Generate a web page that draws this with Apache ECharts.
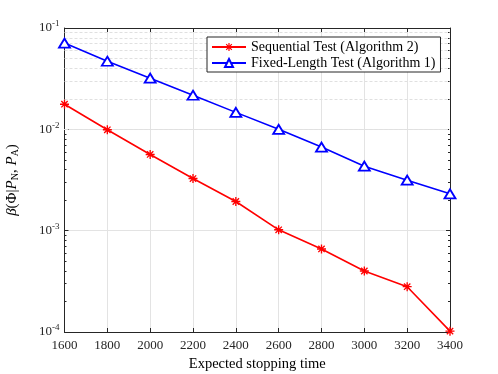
<!DOCTYPE html>
<html>
<head>
<meta charset="utf-8">
<script src="https://cdn.jsdelivr.net/npm/echarts@6/dist/echarts.min.js"></script>
<style>
  html, body { margin: 0; padding: 0; background: #fff; }
  #app { width: 498px; height: 374px; }
</style>
</head>
<body>
<div id="app"></div>
<script>
var stopTimes = [1600, 1800, 2000, 2200, 2400, 2600, 2800, 3000, 3200, 3400];
var sequential = [0.0177, 0.0099, 0.00565, 0.00327, 0.00194, 0.00102, 0.00066, 0.00040, 0.00028, 0.000102];
var fixedLength = [0.071, 0.047, 0.032, 0.0217, 0.0147, 0.0100, 0.00668, 0.00433, 0.00315, 0.00231];
var minorVals = [];
[1e-4, 1e-3, 1e-2].forEach(function (d) {
    for (var k = 2; k <= 9; k++) minorVals.push(+(k * d).toPrecision(2));
});

var serif = '"Liberation Serif", "DejaVu Serif", serif';
var axisColor = '#262626';

function pair(arr) {
    return stopTimes.map(function (t, i) { return [t, arr[i]]; });
}

// asterisk marker (MATLAB '*')
var star = 'path://M-0.15,-1L0.15,-1L0.15,1L-0.15,1Z M-1,-0.15L1,-0.15L1,0.15L-1,0.15Z ' +
    'M-0.6,-0.81L0.81,0.6L0.6,0.81L-0.81,-0.6Z M0.81,-0.6L-0.6,0.81L-0.81,0.6L0.6,-0.81Z';

var myChart = echarts.init(document.getElementById('app'));
var gridLine = { show: true, lineStyle: { color: '#e3e3e3', width: 1 } };

var option = {
    animation: false,
    grid: { left: 64.5, right: 48, top: 28, bottom: 42, outerBoundsMode: 'none', containLabel: false },
    legend: {
        data: ['Sequential Test (Algorithm 2)', 'Fixed-Length Test (Algorithm 1)'],
        orient: 'vertical',
        left: 207, top: 37,
        itemWidth: 34, itemHeight: 10, itemGap: 2,
        padding: [3, 5, 2, 4],
        backgroundColor: '#fff',
        borderColor: axisColor, borderWidth: 1,
        textStyle: { fontFamily: serif, fontSize: 14, color: '#000' }
    },
    xAxis: [{
        type: 'value', min: 1600, max: 3400, interval: 200,
        name: 'Expected stopping time', nameLocation: 'middle', nameGap: 24,
        nameTextStyle: { fontFamily: serif, fontSize: 14.5, color: '#000' },
        axisLine: { onZero: false, lineStyle: { color: axisColor } },
        axisTick: { inside: true, length: 4, lineStyle: { color: axisColor } },
        axisLabel: {
            fontFamily: serif, fontSize: 13, color: axisColor, margin: 7,
            formatter: function (v) { return String(v); }
        },
        splitLine: gridLine
    }, {
        type: 'value', min: 1600, max: 3400, interval: 200, position: 'top',
        axisLine: { onZero: false, lineStyle: { color: axisColor } },
        axisTick: { inside: true, length: 4, lineStyle: { color: axisColor } },
        axisLabel: { show: false }, splitLine: { show: false }
    }],
    yAxis: [{
        type: 'log', logBase: 10, min: 1e-4, max: 0.1,
        name: '{i|β}(Φ|{i|P}{s|N}, {i|P}{s|A})', nameLocation: 'middle', nameGap: 44, nameRotate: 90,
        nameTextStyle: {
            fontFamily: serif, fontSize: 15, color: '#000',
            rich: {
                i: { fontFamily: serif, fontSize: 15, fontStyle: 'italic', color: '#000' },
                s: { fontFamily: serif, fontSize: 10, color: '#000', padding: [7, 0, 0, 0] }
            }
        },
        axisLine: { onZero: false, lineStyle: { color: axisColor } },
        axisTick: { inside: true, length: 4, lineStyle: { color: axisColor } },
        axisLabel: {
            margin: 5,
            formatter: function (v) {
                return '{b|10}{e|' + Math.round(Math.log10(v)) + '}';
            },
            rich: {
                b: { fontFamily: serif, fontSize: 13, color: axisColor },
                e: { fontFamily: serif, fontSize: 9, color: axisColor, padding: [0, 0, 8, 0] }
            }
        },
        splitLine: gridLine
    }, {
        type: 'log', logBase: 10, min: 1e-4, max: 0.1, position: 'left',
        axisLine: { show: false },
        axisTick: { inside: true, length: 2, customValues: minorVals, lineStyle: { color: axisColor } },
        axisLabel: { show: false }, splitLine: { show: false }
    }, {
        type: 'log', logBase: 10, min: 1e-4, max: 0.1, position: 'right',
        axisLine: { onZero: false, lineStyle: { color: axisColor } },
        axisTick: { inside: true, length: 4, lineStyle: { color: axisColor } },
        axisLabel: { show: false }, splitLine: { show: false }
    }, {
        type: 'log', logBase: 10, min: 1e-4, max: 0.1, position: 'right',
        axisLine: { show: false },
        axisTick: { inside: true, length: 2, customValues: minorVals, lineStyle: { color: axisColor } },
        axisLabel: { show: false }, splitLine: { show: false }
    }],
    series: [{
        name: 'minor grid', type: 'line', data: [], z: 1, silent: true,
        markLine: {
            silent: true, z: 1, symbol: 'none', label: { show: false },
            lineStyle: { color: '#e0e0e0', type: [3, 2], width: 1 },
            data: minorVals.map(function (v) { return { yAxis: v }; })
        }
    }, {
        name: 'Sequential Test (Algorithm 2)', type: 'line', z: 3,
        data: pair(sequential),
        symbol: star, symbolSize: 9,
        itemStyle: { color: '#ff0000' },
        lineStyle: { color: '#ff0000', width: 1.6 }
    }, {
        name: 'Fixed-Length Test (Algorithm 1)', type: 'line', z: 3,
        data: pair(fixedLength),
        symbol: 'triangle', symbolSize: [11, 9],
        itemStyle: { color: '#fff', borderColor: '#0000ff', borderWidth: 1.8 },
        lineStyle: { color: '#0000ff', width: 1.6 }
    }]
};
myChart.setOption(option);
</script>
</body>
</html>
